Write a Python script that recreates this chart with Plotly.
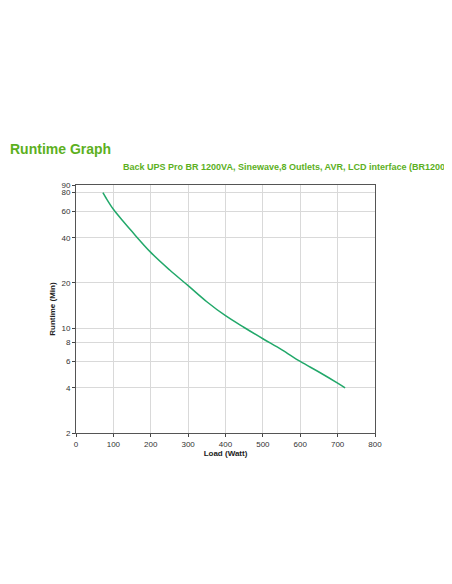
import plotly.graph_objects as go

load_watt = [72, 80, 100, 125, 150, 200, 250, 300, 350, 400, 450, 500, 550, 600, 650, 700, 720]
runtime_min = [80, 74, 62, 52, 44, 32, 24.5, 19.2, 15.0, 12.1, 10.1, 8.5, 7.2, 6.0, 5.1, 4.3, 4.0]
y_ticks = [2, 4, 6, 8, 10, 20, 40, 60, 80, 90]

fig = go.Figure()
fig.add_trace(
    go.Scatter(
        x=load_watt,
        y=runtime_min,
        mode="lines",
        line=dict(color="#22a86a", width=1.5, shape="spline"),
        showlegend=False,
    )
)

fig.update_layout(
    width=452,
    height=584,
    margin=dict(l=68, r=85, t=177, b=159),
    paper_bgcolor="white",
    plot_bgcolor="white",
    font=dict(family="Liberation Sans, Arial", size=8, color="#333"),
)

# titles placed in pixel terms via paper fractions
ph = 584 - 177 - 159
pw = 452 - 68 - 85
fig.add_annotation(text="<b>Runtime Graph</b>", xref="paper", yref="paper",
                   x=-68 / pw, y=1 + (177 - 141) / ph, xanchor="left", yanchor="middle",
                   showarrow=False, font=dict(size=14, color="#5cb01e"))
fig.add_annotation(text="<b>Back UPS Pro BR 1200VA, Sinewave,8 Outlets, AVR, LCD interface (BR1200SI)</b>",
                   xref="paper", yref="paper",
                   x=(450 - 68) / pw, y=1 + (177 - 159) / ph, xanchor="right", yanchor="middle",
                   showarrow=False, font=dict(size=9, color="#5cb01e"))

fig.update_xaxes(
    range=[0, 800], dtick=100, showgrid=True, gridcolor="#d9d9d9", automargin=False,
    showline=True, linecolor="#555", mirror=True, ticks="outside", ticklen=3,
    title=dict(text="<b>Load (Watt)</b>", font=dict(size=8, color="#222"), standoff=2),
    zeroline=False,
)
fig.update_yaxes(
    type="log", range=[0.30103, 1.95424], tickvals=y_ticks, ticktext=[str(v) for v in y_ticks],
    showgrid=True, gridcolor="#d9d9d9", automargin=False,
    showline=True, linecolor="#555", mirror=True, ticks="outside", ticklen=3,
    title=dict(text="<b>Runtime (Min)</b>", font=dict(size=8, color="#222"), standoff=4),
)

fig.write_html("out.html")
